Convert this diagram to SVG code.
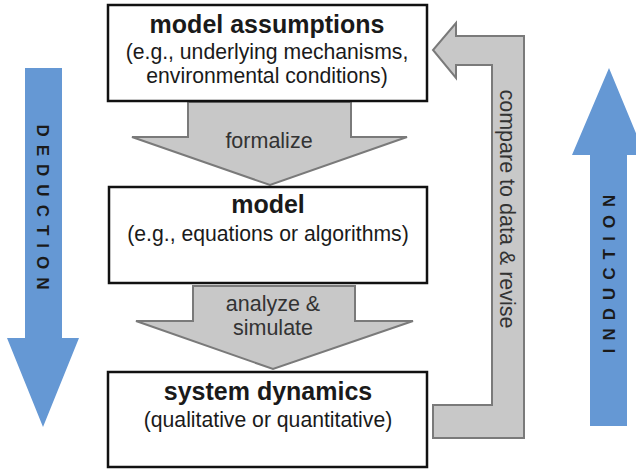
<svg xmlns="http://www.w3.org/2000/svg" width="636" height="469" viewBox="0 0 636 469">
<style>
.box{fill:#fff;stroke:#111;stroke-width:2.5}
.garrow{fill:#c8c8c8;stroke:#7a7a7a;stroke-width:2}
.barrow{fill:#6598d4}
.t{font-family:"Liberation Sans",Arial,sans-serif;fill:#1a1a1a;text-anchor:middle}
.b{font-weight:bold;font-size:25px}
.r{font-size:21.2px}
.lab{font-size:21.5px;fill:#333}
.side{font-family:"Liberation Sans",Arial,sans-serif;font-weight:bold;font-size:17px;fill:#1a1a1a;text-anchor:middle;letter-spacing:8px}
</style>
<rect width="636" height="469" fill="#fff"/>
<g id="deduction">
<polygon class="barrow" points="25,68 62,68 62,338 79,338 43,427 7,338 25,338"/>
<text class="side" transform="translate(37,211) rotate(90)">DEDUCTION</text>
</g>
<g id="induction">
<polygon class="barrow" points="590,426 627,426 627,155 645,155 609,68 572,155 590,155"/>
<text class="side" transform="translate(615,270) rotate(-90)">INDUCTION</text>
</g>
<g id="connectors">
<polygon class="garrow" points="188,102 351,102 351,137 407,137 270,185 132,137 188,137"/>
<text class="t lab" x="269" y="148">formalize</text>
<polygon class="garrow" points="193,286 355,286 355,321 413,321 273,369 136,321 193,321"/>
<text class="t lab" x="273" y="311">analyze &amp;</text>
<text class="t lab" x="273" y="335">simulate</text>
<polygon class="garrow" points="433,438 524,438 524,36 456,36 456,23 433,50 456,78 456,65 492,65 492,405 433,405"/>
<text class="t lab" transform="translate(500,209) rotate(90)">compare to data &amp; revise</text>
</g>
<g id="model-assumptions">
<rect class="box" x="108" y="5" width="319" height="96"/>
<text class="t b" x="267" y="33">model assumptions</text>
<text class="t r" x="267" y="58.5">(e.g., underlying mechanisms,</text>
<text class="t r" x="267" y="82.5">environmental conditions)</text>
</g>
<g id="model">
<rect class="box" x="109" y="187" width="318" height="96"/>
<text class="t b" x="268" y="213">model</text>
<text class="t r" x="268" y="241">(e.g., equations or algorithms)</text>
</g>
<g id="system-dynamics">
<rect class="box" x="108" y="372" width="319" height="95"/>
<text class="t b" x="268" y="400">system dynamics</text>
<text class="t r" x="268" y="427">(qualitative or quantitative)</text>
</g>
</svg>
